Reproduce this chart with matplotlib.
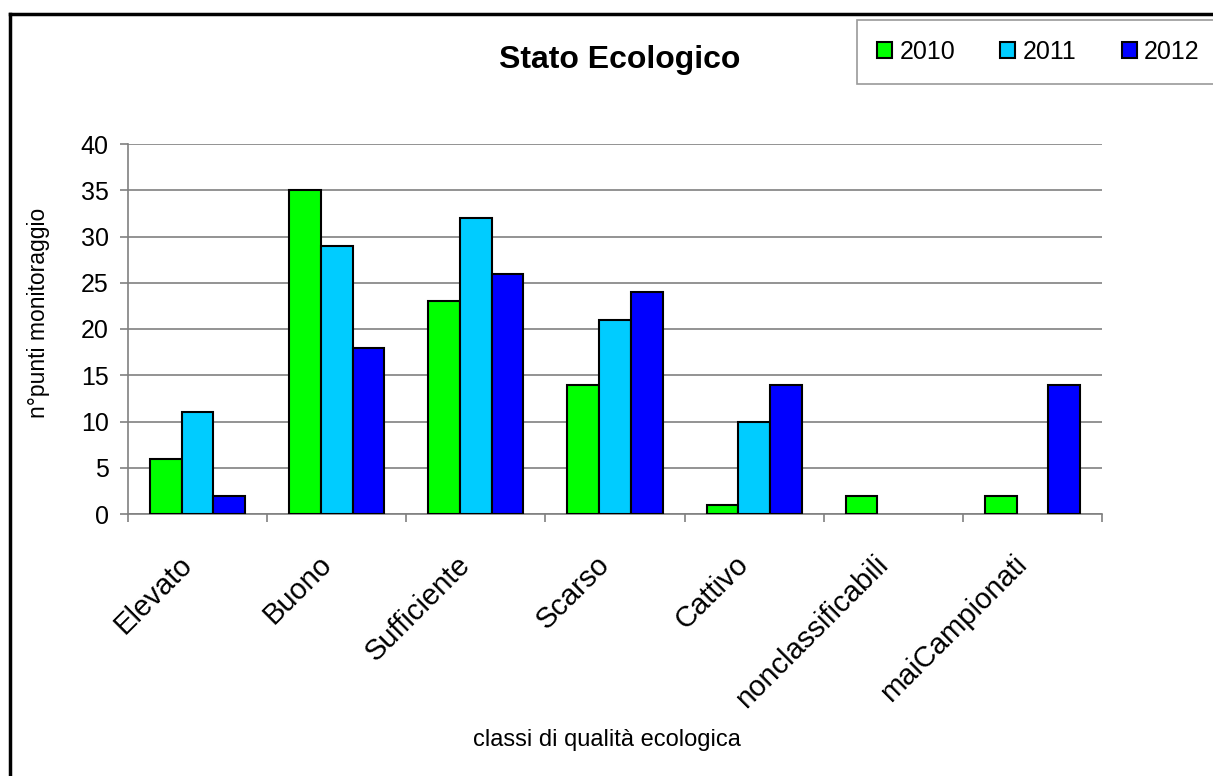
import matplotlib.pyplot as plt
import numpy as np
from matplotlib.lines import Line2D
from matplotlib.patches import Patch

plt.rcParams['font.family'] = ['Liberation Sans', 'DejaVu Sans']

categories = ['Elevato', 'Buono', 'Sufficiente', 'Scarso', 'Cattivo',
              'nonclassificabili', 'maiCampionati']
years = ['2010', '2011', '2012']
v2010 = [6, 35, 23, 14, 1, 2, 2]
v2011 = [11, 29, 32, 21, 10, 0, 0]
v2012 = [2, 18, 26, 24, 14, 0, 14]
colors = ['#00ff00', '#00ccff', '#0000ff']

fig = plt.figure(figsize=(12.13, 7.76), dpi=100)
ax = fig.add_axes([128/1213, 1-514/776, (1102-128)/1213, (514-144)/776])

x = np.arange(len(categories))
w = 0.228
for i, vals in enumerate([v2010, v2011, v2012]):
    bars = ax.bar(x + (i-1)*w, vals, width=w, color=colors[i], edgecolor='black',
                  linewidth=1.5, zorder=3)
    for b, v in zip(bars, vals):
        if v == 0:
            b.set_visible(False)

ax.set_xlim(-0.5, len(categories)-0.5)
ax.set_ylim(0, 40)
ax.set_yticks(np.arange(0, 41, 5))
ax.yaxis.grid(True, color='#808080', linewidth=1.2, zorder=0)
ax.tick_params(axis='y', labelsize=18, length=6, width=1.2, color='#808080', pad=8)

ax.set_xticks(np.arange(len(categories)+1) - 0.5)
ax.set_xticklabels([])
ax.tick_params(axis='x', which='major', length=6, width=1.2, color='#808080')
# labels sit a bit left of the category centre, like the original
ax.set_xticks(x - 0.14, minor=True)
ax.set_xticklabels(categories, minor=True, rotation=45, ha='right',
                   rotation_mode='anchor', fontsize=21)
ax.tick_params(axis='x', which='minor', length=0, pad=26)

for s in ['top', 'right']:
    ax.spines[s].set_visible(False)
for s in ['left', 'bottom']:
    ax.spines[s].set_color('#808080')
    ax.spines[s].set_linewidth(1.2)

fig.text(39/1213, 1-313/776, 'n°punti monitoraggio', fontsize=16.5, rotation=90,
         ha='center', va='center')
fig.text(607/1213, 1-740/776, 'classi di qualità ecologica',
         fontsize=17, ha='center', va='center')
fig.text(620/1213, 1-60/776, 'Stato Ecologico', fontsize=23, fontweight='bold',
         ha='center', va='center')

# figure frame (top and left edges visible)
fig.add_artist(Line2D([10/1213, 1.0], [1-14/776, 1-14/776], color='black', linewidth=2.5))
fig.add_artist(Line2D([10/1213, 10/1213], [0, 1-14/776], color='black', linewidth=2.5))

handles = [Patch(facecolor=c, edgecolor='black', linewidth=1.5) for c in colors]
leg = fig.legend(handles, years, loc='upper left',
                 bbox_to_anchor=(857/1213, 1-20/776), ncol=3, fontsize=18,
                 frameon=True, fancybox=False, handlelength=0.6, handleheight=0.6,
                 handletextpad=0.3, columnspacing=1.8, borderpad=0.8,
                 borderaxespad=0)
leg.get_frame().set_edgecolor('#808080')
leg.get_frame().set_linewidth(1.2)

fig.savefig('out.png', dpi=100)
